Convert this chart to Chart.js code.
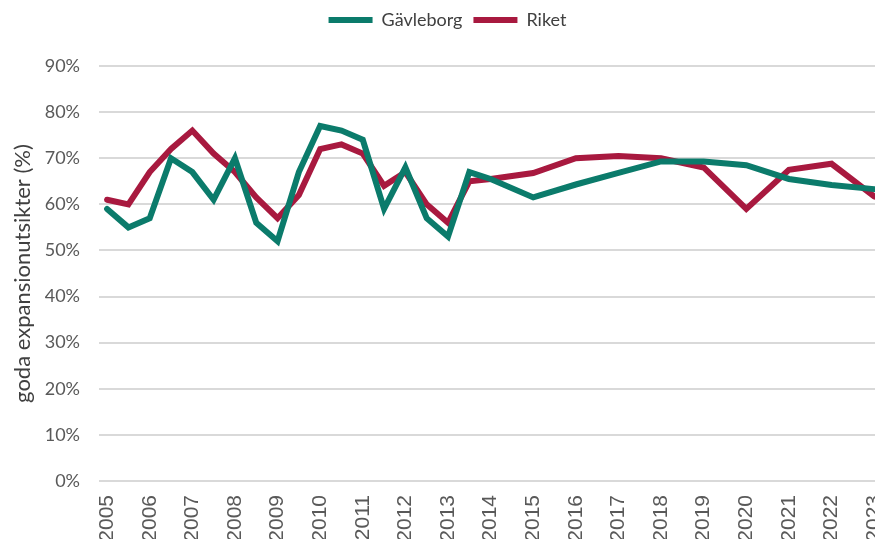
<!DOCTYPE html>
<html>
<head>
<meta charset="utf-8">
<script src="https://cdn.jsdelivr.net/npm/chart.js@4/dist/chart.umd.min.js"></script>
<style>
  html, body { margin: 0; padding: 0; background: #fff; overflow: hidden; }
  #wrap { width: 875px; height: 539px; }
</style>
</head>
<body>
<div id="wrap"><canvas id="chart" width="875" height="539"></canvas></div>
<script>
// half-year survey rounds up to 2013, then yearly
const periods = [2005, 2005.5, 2006, 2006.5, 2007, 2007.5, 2008, 2008.5, 2009, 2009.5,
  2010, 2010.5, 2011, 2011.5, 2012, 2012.5, 2013, 2013.5,
  2014, 2015, 2016, 2017, 2018, 2019, 2020, 2021, 2022, 2023];
const gavleborg = [59, 55, 57, 70, 67, 61, 70, 56, 52, 67,
  77, 76, 74, 59, 68, 57, 53, 67,
  65.5, 61.5, 64.3, 66.8, 69.3, 69.3, 68.5, 65.5, 64.2, 63.3];
const riket = [61, 60, 67, 72, 76, 71, 67, 61.5, 57, 62,
  72, 73, 71, 64, 67, 60, 56, 65,
  65.5, 66.8, 70, 70.5, 70, 68, 59, 67.5, 68.8, 61.7];
const tickYears = [2005, 2006, 2007, 2008, 2009, 2010, 2011, 2012, 2013, 2014,
  2015, 2016, 2017, 2018, 2019, 2020, 2021, 2022, 2023];
const yTicks = [0, 10, 20, 30, 40, 50, 60, 70, 80, 90];

const GREEN = '#0b7b6b';
const RED = '#a8193f';

// push the plot down below the legend, and nudge the legend a bit right
const legendSpacer = {
  id: 'legendSpacer',
  beforeInit(chart) {
    const fit = chart.legend.fit;
    chart.legend.fit = function () { fit.call(this); this.height += 27; };
  },
  afterLayout(chart) {
    chart.legend.left += 10;
    chart.legend.right += 10;
  }
};

function series(values) {
  return periods.map(function (p, i) { return { x: p, y: values[i] }; });
}

new Chart(document.getElementById('chart'), {
  type: 'line',
  data: {
    datasets: [
      { label: 'Gävleborg', data: series(gavleborg), borderColor: GREEN, backgroundColor: GREEN,
        borderWidth: 6, borderCapStyle: 'round', pointRadius: 0, tension: 0 },
      { label: 'Riket', data: series(riket), borderColor: RED, backgroundColor: RED,
        borderWidth: 6, borderCapStyle: 'round', pointRadius: 0, tension: 0 }
    ]
  },
  options: {
    responsive: false,
    animation: false,
    layout: { padding: 0 },
    plugins: {
      legend: {
        position: 'top',
        labels: {
          usePointStyle: true, pointStyle: 'line', pointStyleWidth: 44,
          font: { family: 'Lato', size: 18 }, color: '#404040', padding: 11
        }
      },
      tooltip: { enabled: false }
    },
    scales: {
      x: {
        type: 'linear', min: 2004.81, max: 2023.02,
        afterBuildTicks: function (s) { s.ticks = tickYears.map(function (v) { return { value: v }; }); },
        afterFit: function (s) { s.paddingLeft = 0; s.paddingRight = 0; s.height = 58; },
        grid: { display: false, drawTicks: false },
        border: { display: false },
        ticks: {
          autoSkip: false, minRotation: 90, maxRotation: 90, padding: 14,
          font: { family: 'Liberation Sans', size: 21 }, color: '#595959',
          callback: function (v) { return String(v); }
        }
      },
      y: {
        min: 0, max: 90,
        afterBuildTicks: function (s) { s.ticks = yTicks.map(function (v) { return { value: v }; }); },
        afterFit: function (s) { s.width = 99; },
        grid: { color: '#d9d9d9', lineWidth: 2, drawTicks: false },
        border: { display: false },
        ticks: {
          padding: 19, font: { family: 'Lato', size: 18 }, color: '#595959',
          callback: function (v) { return v + '%'; }
        },
        title: {
          display: true, text: 'goda expansionutsikter (%)',
          font: { family: 'Lato', size: 22 }, color: '#404040',
          padding: { top: 10, bottom: 0 }
        }
      }
    }
  },
  plugins: [legendSpacer]
});
</script>
</body>
</html>
